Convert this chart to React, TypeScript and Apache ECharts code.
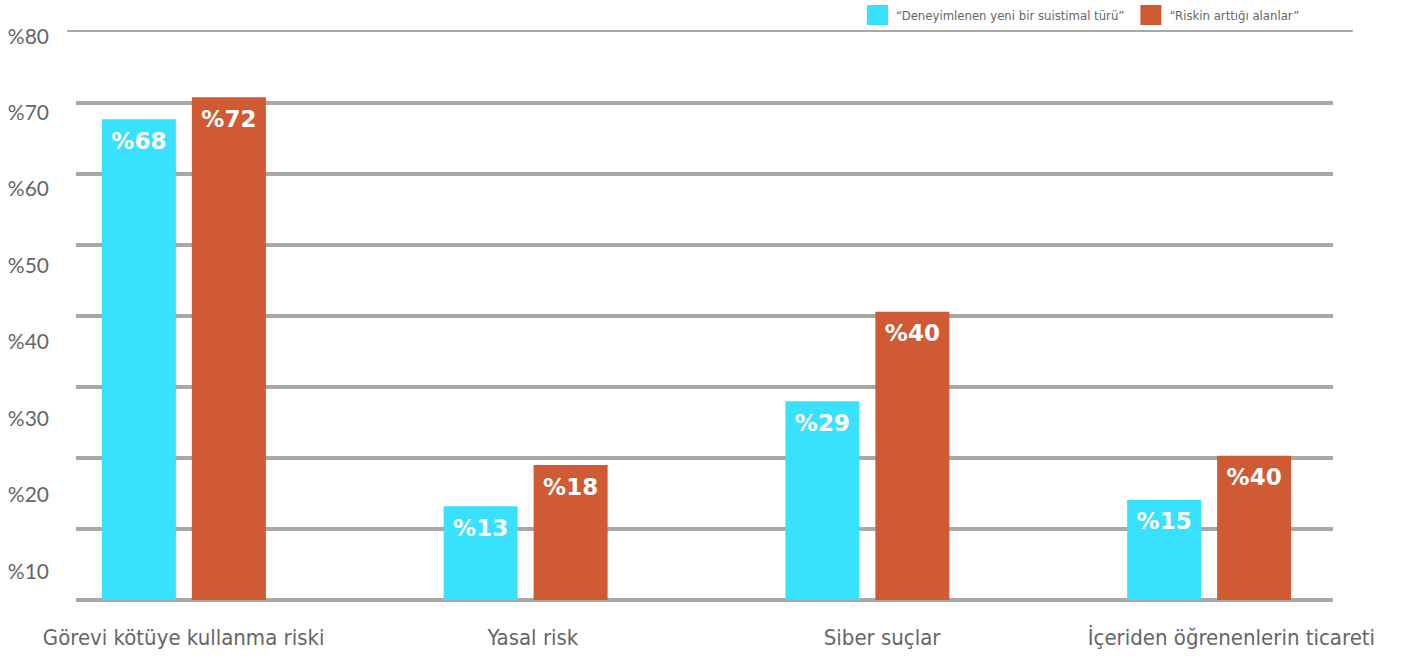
import React, { useEffect, useRef } from "react";
import * as echarts from "echarts";

const categories = [
  "Görevi kötüye kullanma riski",
  "Yasal risk",
  "Siber suçlar",
  "İçeriden öğrenenlerin ticareti",
];
const seriesNames = ["“Deneyimlenen yeni bir suistimal türü”", "“Riskin arttığı alanlar”"];
// bar heights as drawn in the picture (grid scale 0-80)
const valuesA = [67.7, 13.2, 28.0, 14.1];
const valuesB = [70.8, 19.0, 40.6, 20.3];
// labels printed on the bars
const labelsA = ["%68", "%13", "%29", "%15"];
const labelsB = ["%72", "%18", "%40", "%40"];
const colors = ["#38E1FD", "#CF5A33"];

export default function App() {
  const ref = useRef<HTMLDivElement>(null);
  useEffect(() => {
    if (!ref.current) return;
    const chart = echarts.init(ref.current, null, { renderer: "svg" });
    const gridGray = "#a8a8a4";
    const barLabel = (labels: string[]) => ({
      show: true,
      position: "insideTop",
      distance: 10,
      formatter: (p: any) => labels[p.dataIndex],
      color: "#ffffff",
      fontWeight: "bold",
      fontSize: 23,
      fontFamily: "DejaVu Sans",
    });
    chart.setOption({
      animation: false,
      backgroundColor: "#ffffff",
      color: colors,
      legend: {
        data: seriesNames,
        left: 867,
        top: 5,
        padding: 0,
        icon: "rect",
        itemWidth: 21,
        itemHeight: 20,
        itemGap: 16,
        textStyle: {
          fontFamily: "DejaVu Sans Condensed",
          fontSize: 13,
          color: "#666666",
          padding: [0, 0, 0, 3],
        },
      },
      grid: [
        { left: 13, width: 1367, top: 32, height: 568 },
        { left: 76, width: 1257, top: 32, height: 568 },
        { left: 68, width: 1284, top: 30, height: 1 },
        { left: 50, width: 10, top: 35, height: 535 },
        { left: 9, width: 1401, top: 32, height: 568 },
      ],
      xAxis: [
        { type: "category", gridIndex: 0, data: categories, show: false },
        { type: "value", gridIndex: 1, show: false, min: 0, max: 1 },
        {
          type: "value",
          gridIndex: 2,
          position: "top",
          min: 0,
          max: 1,
          axisLine: { show: true, lineStyle: { color: gridGray, width: 2 } },
          axisTick: { show: false },
          axisLabel: { show: false },
          splitLine: { show: false },
        },
        { type: "value", gridIndex: 3, show: false, min: 0, max: 1 },
        {
          type: "category",
          gridIndex: 4,
          data: categories,
          axisLine: { show: false },
          axisTick: { show: false },
          axisLabel: {
            interval: 0,
            margin: 26,
            fontFamily: "DejaVu Sans Condensed",
            fontSize: 22,
            color: "#666666",
          },
        },
      ],
      yAxis: [
        { type: "value", gridIndex: 0, min: 0, max: 80, show: false },
        {
          type: "value",
          gridIndex: 1,
          min: 0,
          max: 80,
          interval: 10,
          axisLine: { show: false },
          axisTick: { show: false },
          axisLabel: { show: false },
          splitLine: {
            show: true,
            showMaxLine: false,
            lineStyle: { color: gridGray, width: 4 },
          },
        },
        { type: "value", gridIndex: 2, show: false, min: 0, max: 1 },
        {
          type: "value",
          gridIndex: 3,
          min: 10,
          max: 80,
          interval: 10,
          axisLine: { show: false },
          axisTick: { show: false },
          splitLine: { show: false },
          axisLabel: {
            margin: 1,
            formatter: "%{value}",
            fontFamily: "Lato",
            fontSize: 21,
            color: "#666666",
          },
        },
        { type: "value", gridIndex: 4, show: false, min: 0, max: 80 },
      ],
      series: [
        {
          name: seriesNames[0],
          type: "bar",
          xAxisIndex: 0,
          yAxisIndex: 0,
          data: valuesA,
          barWidth: 74,
          barGap: "21.6%",
          itemStyle: { color: colors[0] },
          label: barLabel(labelsA),
        },
        {
          name: seriesNames[1],
          type: "bar",
          xAxisIndex: 0,
          yAxisIndex: 0,
          data: valuesB,
          barWidth: 74,
          barGap: "21.6%",
          itemStyle: { color: colors[1] },
          label: barLabel(labelsB),
        },
      ],
    });
    return () => chart.dispose();
  }, []);
  return (
    <div
      ref={ref}
      style={{ position: "fixed", left: 0, top: 0, width: 1406, height: 656 }}
    />
  );
}
